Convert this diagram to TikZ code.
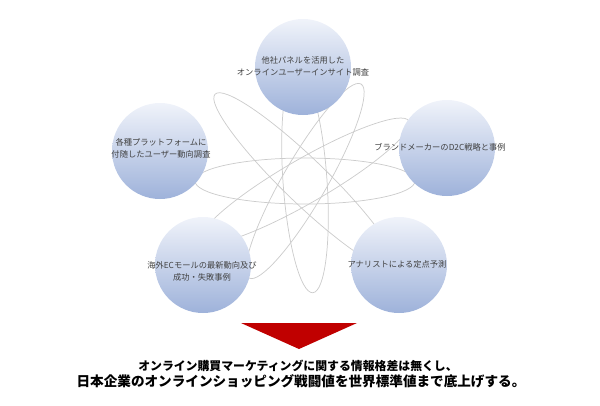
\documentclass[tikz,border=0pt]{standalone}
\usepackage{fontspec}
\setmainfont{Noto Sans CJK JP}
\definecolor{bubbleblue}{RGB}{158,178,218}
\definecolor{bubbletop}{RGB}{240,243,250}
\definecolor{arrowred}{RGB}{192,0,0}
\begin{document}
\begin{tikzpicture}[x=0.75pt,y=-0.75pt,
  orbit/.style={draw=black!20, line width=0.55pt},
  bubble/.style={circle, minimum size=72pt, inner sep=0pt, top color=bubbletop, bottom color=bubbleblue},
  btext/.style={text=black!75, align=center, inner sep=0pt, font=\fontsize{6.2}{9}\selectfont},
  tline/.style={inner sep=0pt}]
\useasboundingbox (0,0) rectangle (600,405);
\coordinate (C) at (305,181);
% orbits
\draw[orbit] (C) ellipse (110 and 23);
\draw[orbit, rotate around={30:(C)}] (C) ellipse (120 and 22);
\draw[orbit, rotate around={60:(C)}] (C) ellipse (112 and 22);
\draw[orbit, rotate around={94:(C)}] (C) ellipse (112 and 22);
\draw[orbit, rotate around={136:(C)}] (C) ellipse (125 and 22);
% bubbles
\node[bubble] (top) at (303,67) {};
\node[bubble] (left) at (160,151) {};
\node[bubble] (right) at (447,148) {};
\node[bubble] (bl) at (203,265) {};
\node[bubble] (br) at (399,265) {};
\node[btext] at (303,66) {他社パネルを活用した\\オンラインユーザーインサイト調査};
\node[btext] at (161,148) {各種プラットフォームに\\付随したユーザー動向調査};
\node[btext] at (440,147) {ブランドメーカーのD2C戦略と事例};
\node[btext] at (202,271) {海外ECモールの最新動向及び\\成功・失敗事例};
\node[btext] at (397,264) {アナリストによる定点予測};
% arrow
\fill[arrowred] (241,323) coordinate (t1) -- (357,323) coordinate (t2) -- (299,349) coordinate (t3) -- cycle;
\node[tline, font=\bfseries\fontsize{8.9}{10}\selectfont] (l1) at (298,366) {オンライン購買マーケティングに関する情報格差は無くし、};
\node[tline, font=\bfseries\fontsize{10.2}{12}\selectfont] (l2) at (301,381) {日本企業のオンラインショッピング戦闘値を世界標準値まで底上げする。};
\end{tikzpicture}
\end{document}
